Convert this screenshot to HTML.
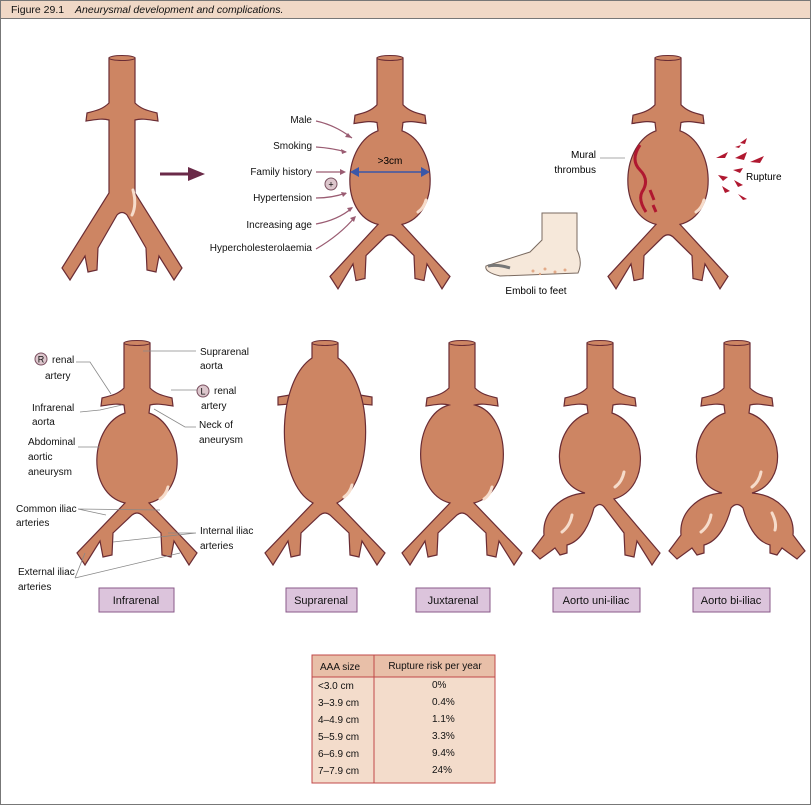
<!DOCTYPE html>
<html><head><meta charset="utf-8"><style>
body{margin:0;background:#fff;}
svg{display:block;font-family:"Liberation Sans",sans-serif;}
</style></head><body>
<svg width="811" height="805" viewBox="0 0 811 805" xmlns="http://www.w3.org/2000/svg">
<defs>
<path id="pI" d="M-13,0 L-13,45 C-20,52 -28,53 -35,55 L-36,63 C-28,62 -20,60 -13,62 L-12,70 C-47,82 -52,150 -12,160 L-60,210 L-52,222 L-37,198 L-34,214 L-25,212 L-24,190 L-5,172 Q0,168 5,172 L24,190 L25,212 L34,214 L37,198 L52,222 L60,210 L12,160 C52,150 47,82 12,70 L13,62 C20,60 28,62 36,63 L35,55 C28,53 20,52 13,45 L13,0 Z"/>
<path id="pN" d="M-13,0 L-13,45 C-20,52 -28,53 -35,55 L-36,63 C-28,62 -20,60 -13,62 L-13,135 L-60,210 L-52,222 L-37,198 L-34,214 L-25,212 L-24,190 L-5,157 Q0,152 5,157 L24,190 L25,212 L34,214 L37,198 L52,222 L60,210 L13,135 L13,62 C20,60 28,62 36,63 L35,55 C28,53 20,52 13,45 L13,0 Z"/>
<path id="pS" d="M-13,0 L-13,15 C-50,40 -50,140 -12,160 L-60,210 L-52,222 L-37,198 L-34,214 L-25,212 L-24,190 L-5,172 Q0,168 5,172 L24,190 L25,212 L34,214 L37,198 L52,222 L60,210 L12,160 C50,140 50,40 13,15 L13,0 Z"/>
<path id="pJ" d="M-13,0 L-13,45 C-20,52 -28,53 -35,55 L-36,63 C-28,62 -20,60 -13,62 C-50,72 -52,150 -12,160 L-60,210 L-52,222 L-37,198 L-34,214 L-25,212 L-24,190 L-5,172 Q0,168 5,172 L24,190 L25,212 L34,214 L37,198 L52,222 L60,210 L12,160 C52,150 50,72 13,62 C20,60 28,62 36,63 L35,55 C28,53 20,52 13,45 L13,0 Z"/>
<path id="pU" d="M-13,0 L-13,45 C-20,52 -28,53 -35,55 L-36,63 C-28,62 -20,60 -13,62 L-12,70 C-47,82 -52,140 -15,150 C-40,152 -58,170 -56,192 L-68,208 L-60,216 L-45,205 L-40,212 L-33,210 L-33,202 C-18,198 -10,180 -6,165 Q0,158 5,165 L24,190 L25,212 L34,214 L37,198 L52,222 L60,210 L14,156 C52,145 47,82 12,70 L13,62 C20,60 28,62 36,63 L35,55 C28,53 20,52 13,45 L13,0 Z"/>
<path id="pB" d="M-13,0 L-13,45 C-20,52 -28,53 -35,55 L-36,63 C-28,62 -20,60 -13,62 L-12,70 C-47,82 -52,140 -15,150 C-40,152 -58,170 -56,192 L-68,208 L-60,216 L-45,205 L-40,212 L-33,210 L-33,202 C-18,198 -10,180 -6,165 Q0,158 6,165 C10,180 18,198 33,202 L33,210 L40,212 L45,205 L60,216 L68,208 L56,192 C58,170 40,152 15,150 C52,140 47,82 12,70 L13,62 C20,60 28,62 36,63 L35,55 C28,53 20,52 13,45 L13,0 Z"/>
</defs>
<rect x="0.5" y="0.5" width="810" height="804" fill="#fff" stroke="#777"/>
<rect x="0.5" y="0.5" width="810" height="18" fill="#f0d8c6" stroke="#777"/>
<text x="11" y="13" font-size="10.5" fill="#111">Figure 29.1 <tspan dx="8" font-style="italic">Aneurysmal development and complications.</tspan></text>

<g fill="#cd8563" stroke="#6a2c34" stroke-width="1.2">
<path d="M290,395 L278,397 L278,405 L290,404Z"/><path d="M360,395 L372,397 L372,405 L360,404Z"/>
</g>
<g fill="#cd8563" stroke="#6a2c34" stroke-width="1.2">
<use href="#pN" transform="translate(122,58)"/>
<use href="#pI" transform="translate(390,58) scale(1,1.04)"/>
<use href="#pI" transform="translate(668,58) scale(1,1.04)"/>
<use href="#pI" transform="translate(137,343)"/>
<use href="#pS" transform="translate(325,343)"/>
<use href="#pJ" transform="translate(462,343)"/>
<use href="#pU" transform="translate(600,343)"/>
<use href="#pB" transform="translate(737,343)"/>
</g>
<g fill="#cd8563" stroke="#6a2c34" stroke-width="1">
<ellipse cx="122" cy="58" rx="13" ry="2.5"/><ellipse cx="390" cy="58" rx="13" ry="2.5"/><ellipse cx="668" cy="58" rx="13" ry="2.5"/>
<ellipse cx="137" cy="343" rx="13" ry="2.5"/><ellipse cx="325" cy="343" rx="13" ry="2.5"/><ellipse cx="462" cy="343" rx="13" ry="2.5"/><ellipse cx="600" cy="343" rx="13" ry="2.5"/><ellipse cx="737" cy="343" rx="13" ry="2.5"/>
</g>
<g stroke="#f6dccb" stroke-width="3" fill="none" stroke-linecap="round">
<path d="M133,190 Q137,205 132,215"/>
<path d="M426,200 Q424,208 418,212"/><path d="M704,200 Q702,208 696,212"/>
<path d="M168,487 Q166,495 160,499"/><path d="M352,485 Q350,493 344,497"/><path d="M492,487 Q490,495 484,499"/>
<path d="M624,472 Q622,482 615,487"/><path d="M761,472 Q759,482 752,487"/>
<path d="M572,515 Q570,526 562,532"/><path d="M711,515 Q709,526 701,532"/><path d="M772,513 Q777,523 775,530"/>
</g>
<path d="M160,174 L192,174" stroke="#6a2a48" stroke-width="3"/>
<path d="M188,167 L205,174 L188,181Z" fill="#6a2a48"/>
<g font-size="10" fill="#111" text-anchor="end">
<text x="312" y="123">Male</text><text x="312" y="149">Smoking</text><text x="312" y="175">Family history</text>
<text x="312" y="201">Hypertension</text><text x="312" y="228">Increasing age</text><text x="312" y="251">Hypercholesterolaemia</text>
</g>
<g stroke="#9a5c72" stroke-width="1.2" fill="none">
<path d="M316,121 Q335,125 352,138"/><path d="M316,147 Q332,148 346,152"/><path d="M316,172 L344,172"/>
<path d="M316,198 Q332,198 346,193"/><path d="M316,224 Q338,220 352,208"/><path d="M316,249 Q340,235 355,217"/>
</g>
<g fill="#9a5c72"><path d="M352,138 l-7,-1 l3,-4z"/><path d="M347,152 l-6,-3 l1,5z"/><path d="M346,172 l-6,-3 l0,6z"/><path d="M347,193 l-6,-1 l2,5z"/><path d="M353,207 l-6,1 l3,4z"/><path d="M356,216 l-6,2 l4,4z"/></g>
<circle cx="331" cy="184" r="6" fill="#dcc6cc" stroke="#7a5060"/><text x="331" y="187.5" font-size="9" text-anchor="middle">+</text>
<path d="M356,172 L424,172" stroke="#3b57a8" stroke-width="1.5"/>
<path d="M350,172 l9,-5 l0,10z M430,172 l-9,-5 l0,10z" fill="#3b57a8"/>
<text x="390" y="164" font-size="10" text-anchor="middle">&gt;3cm</text>
<path d="M640,145 Q630,160 640,170 Q650,180 642,192 Q638,200 646,212" stroke="#b01830" stroke-width="3" fill="none"/>
<path d="M650,190 L654,200 M653,205 L656,212" stroke="#b01830" stroke-width="3"/>
<path d="M600,158 L625,158" stroke="#aaa"/>
<text x="596" y="158" font-size="10" text-anchor="end">Mural</text><text x="596" y="173" font-size="10" text-anchor="end">thrombus</text>
<g fill="#b01830"><path d="M716,158 l12,-6 l-3,6z"/><path d="M735,158 l12,-6 l-3,8z"/><path d="M740,143 l7,-5 l-2,6z"/><path d="M750,162 l14,-6 l-4,7z"/><path d="M733,170 l10,-2 l-3,5z"/><path d="M718,175 l10,2 l-5,4z"/><path d="M722,186 l8,5 l-5,2z"/><path d="M734,180 l9,5 l-5,2z"/><path d="M738,194 l9,5 l-4,1z"/><path d="M735,147 l6,-2 l-2,3z"/></g>
<text x="746" y="180" font-size="10">Rupture</text>
<path d="M542,213 L577,213 L577,250 Q583,262 578,273 L500,276 Q484,272 486,266 Q505,260 530,252 L542,240 Z" fill="#f6e8da" stroke="#7a6a60"/>
<path d="M488,266 Q498,264 510,268" stroke="#777" stroke-width="3" fill="none"/>
<g fill="#e3aa88"><circle cx="533" cy="271" r="1.5"/><circle cx="545" cy="269" r="1.5"/><circle cx="555" cy="272" r="1.5"/><circle cx="565" cy="270" r="1.5"/><circle cx="540" cy="274" r="1.2"/></g>
<text x="536" y="294" font-size="10" text-anchor="middle">Emboli to feet</text>
<g stroke="#888" fill="none" stroke-width="0.8">
<path d="M76,362 L90,362 L111,394"/><path d="M80,412 L100,410 L122,405"/><path d="M78,447 L100,447"/>
<path d="M78,509 L106,515 M78,509 L160,510"/><path d="M75,578 L85,553 M75,578 L180,553"/>
<path d="M143,351 L196,351"/><path d="M171,390 L197,390"/><path d="M154,409 L185,427 L196,427"/>
<path d="M113,542 L196,533 M168,533 L196,533"/>
</g>
<g font-size="10" fill="#111">
<circle cx="41" cy="359" r="6" fill="#dcc6cc" stroke="#7a5060"/><text x="41" y="362.5" text-anchor="middle" font-size="9">R</text>
<text x="52" y="363">renal</text><text x="45" y="379">artery</text>
<text x="32" y="411">Infrarenal</text><text x="32" y="425">aorta</text>
<text x="28" y="445">Abdominal</text><text x="28" y="460">aortic</text><text x="28" y="475">aneurysm</text>
<text x="16" y="512">Common iliac</text><text x="16" y="526">arteries</text>
<text x="18" y="575">External iliac</text><text x="18" y="590">arteries</text>
<text x="200" y="355">Suprarenal</text><text x="200" y="369">aorta</text>
<circle cx="203" cy="391" r="6" fill="#dcc6cc" stroke="#7a5060"/><text x="203" y="394.5" text-anchor="middle" font-size="9">L</text>
<text x="214" y="394">renal</text><text x="201" y="409">artery</text>
<text x="199" y="428">Neck of</text><text x="199" y="443">aneurysm</text>
<text x="200" y="534">Internal iliac</text><text x="200" y="549">arteries</text>
</g>
<g fill="#dcc4dc" stroke="#8a5a8a" stroke-width="1">
<rect x="99" y="588" width="75" height="24"/><rect x="286" y="588" width="71" height="24"/><rect x="416" y="588" width="74" height="24"/><rect x="553" y="588" width="87" height="24"/><rect x="693" y="588" width="77" height="24"/>
</g>
<g font-size="11" text-anchor="middle" fill="#111">
<text x="136" y="604">Infrarenal</text><text x="321" y="604">Suprarenal</text><text x="453" y="604">Juxtarenal</text><text x="596" y="604">Aorto uni-iliac</text><text x="731" y="604">Aorto bi-iliac</text>
</g>
<rect x="312" y="655" width="183" height="128" fill="#f3dccb" stroke="#c04848"/>
<rect x="312" y="655" width="183" height="22" fill="#e8bfa8" stroke="#c04848"/>
<line x1="374" y1="655" x2="374" y2="783" stroke="#c04848"/>
<g font-size="10" fill="#111">
<text x="320" y="670">AAA size</text><text x="435" y="669" text-anchor="middle">Rupture risk per year</text>
<text x="318" y="689">&lt;3.0 cm</text><text x="318" y="706">3–3.9 cm</text><text x="318" y="723">4–4.9 cm</text><text x="318" y="740">5–5.9 cm</text><text x="318" y="757">6–6.9 cm</text><text x="318" y="774">7–7.9 cm</text>
<text x="432" y="688">0%</text><text x="432" y="705">0.4%</text><text x="432" y="722">1.1%</text><text x="432" y="739">3.3%</text><text x="432" y="756">9.4%</text><text x="432" y="773">24%</text>
</g>
</svg>
</body></html>
